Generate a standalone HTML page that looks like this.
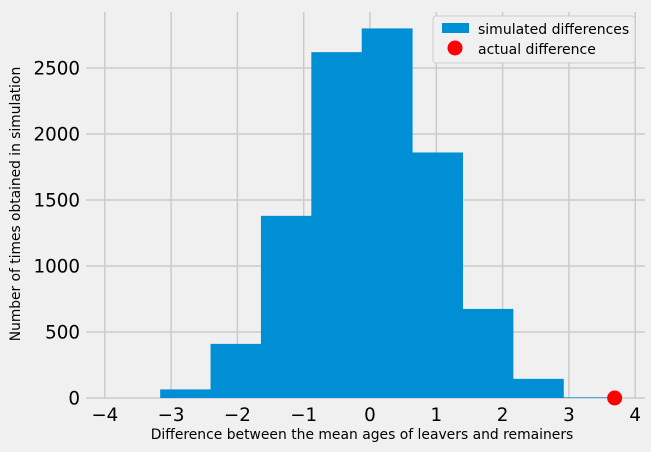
<!DOCTYPE html>
<html><head><meta charset="utf-8"><style>
body{margin:0;background:#f0f0f0;}
svg{display:block;font-family:"DejaVu Sans","Liberation Sans",sans-serif;}
</style></head><body>
<svg id="c" width="651" height="452">
<rect width="651" height="452" fill="#f0f0f0"/>
<g id="grid"></g><g id="bars"></g><g id="ticks"></g>
<text x="362" y="439" font-size="13.9" text-anchor="middle" fill="#000">Difference between the mean ages of leavers and remainers</text>
<text transform="translate(20,204) rotate(-90)" font-size="13.8" text-anchor="middle" fill="#000">Number of times obtained in simulation</text>
<g>
<rect x="433" y="16" width="202" height="47" fill="#f0f0f0" stroke="#cccccc" rx="3"/>
<rect x="442" y="23" width="27" height="10" fill="#008fd5"/>
<text x="478" y="34" font-size="14">simulated differences</text>
<circle cx="455" cy="48" r="7.5" fill="red"/>
<text x="478" y="54" font-size="14">actual difference</text>
</g>
</svg>
<script>
const binStart=-3.165, binWidth=0.76;
const counts=[65,410,1380,2620,2800,1860,675,145,5];
const xTicks=[-4,-3,-2,-1,0,1,2,3,4];
const yTicks=[0,500,1000,1500,2000,2500];
const actualDiff=[3.69];
const NS="http://www.w3.org/2000/svg";
const X=v=>370+v*66.3, Y=v=>398-v*0.132;
function mk(t,a,p){const e=document.createElementNS(NS,t);for(const k in a)e.setAttribute(k,a[k]);p.appendChild(e);return e;}
const g=document.getElementById('grid'),b=document.getElementById('bars'),t=document.getElementById('ticks');
xTicks.forEach(v=>{const l=mk('line',{x1:X(v),x2:X(v),y1:12,y2:398,stroke:'#cbcbcb','stroke-width':1.5},g);

const s=mk('text',{x:X(v),y:421,'font-size':18.3,'text-anchor':'middle'},t);s.textContent=(v<0?'\u2212'+(-v):v);
});
yTicks.forEach(v=>{const l=mk('line',{x1:86,x2:645,y1:Y(v),y2:Y(v),stroke:'#cbcbcb','stroke-width':1.5},g);

const s=mk('text',{x:80,y:Y(v)+6.5,'font-size':18.3,'text-anchor':'end'},t);s.textContent=v;
});
counts.forEach((c,i)=>{const x0=X(binStart+i*binWidth),x1=X(binStart+(i+1)*binWidth);
const r=mk('rect',{x:x0,y:Y(c),width:x1-x0+0.5,height:Y(0)-Y(c),fill:'#008fd5'},b);
});
actualDiff.forEach(v=>{const c=mk('circle',{cx:X(v),cy:Y(0),r:7.5,fill:'red'},b);
});
</script>
</body></html>
